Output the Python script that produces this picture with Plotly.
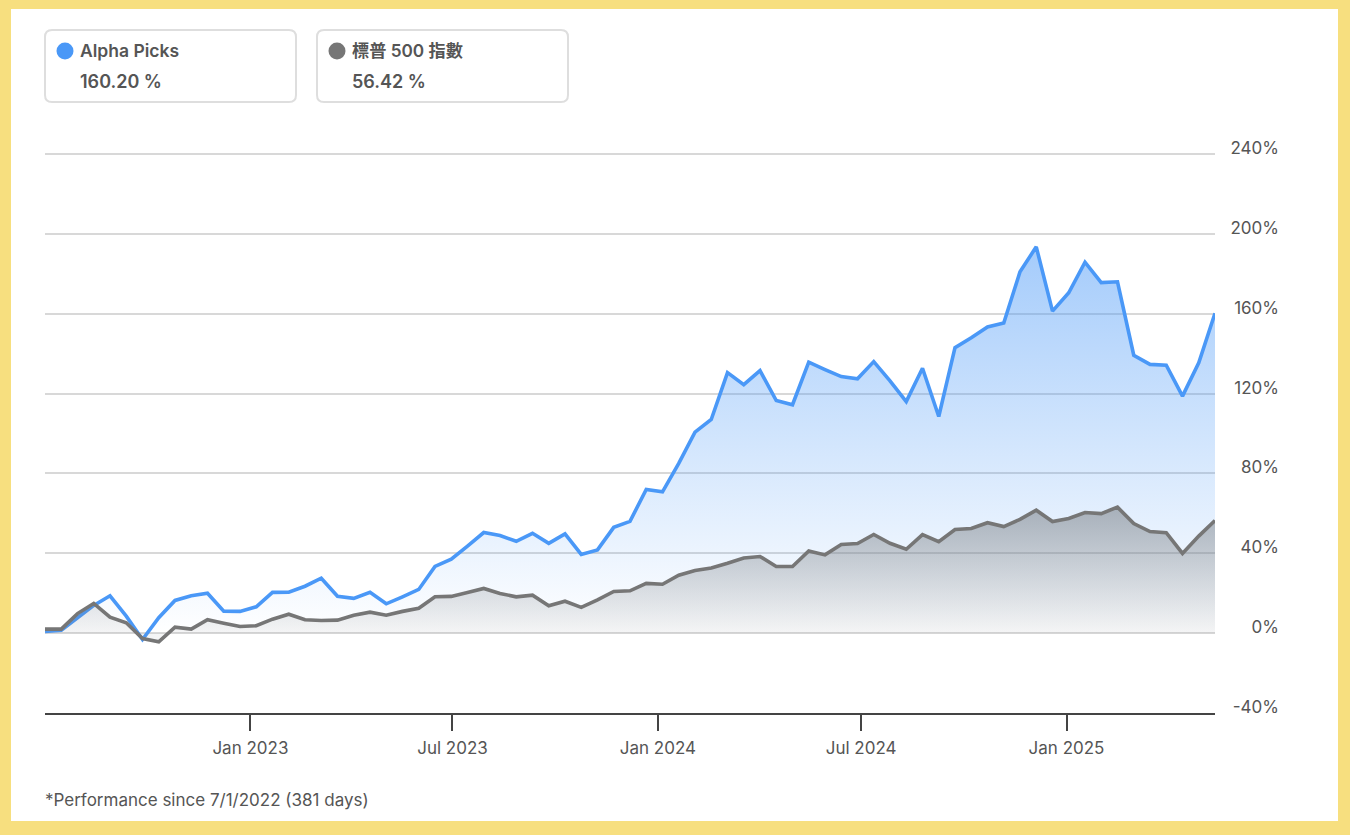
import pandas as pd
import plotly.graph_objects as go

W, H = 1350, 835
alpha_picks = [0.8, 1.5, 7.7, 13.9, 18.7, 8.5, -3.2, 7.7, 16.4, 18.7, 20, 11, 10.9, 13.2, 20.4, 20.5,
               23.5, 27.5, 18.5, 17.4, 20.5, 14.7, 18.2, 21.9, 33.4, 37, 43.6, 50.4, 48.9, 46, 50,
               45, 49.7, 39.4, 41.7, 53, 56, 72, 70.8, 85, 100.7, 107, 130.5, 124.5, 131.5, 116.5,
               114.4, 135.7, 132, 128.5, 127.4, 136, 126.4, 116, 132.7, 108.5, 143, 148, 153.4, 155.3,
               181, 193.5, 161.3, 170.5, 185.8, 175.6, 176, 139.2, 134.6, 134.2, 118.7, 135.4, 160.2]
sp500 = [2, 2, 9.8, 14.9, 8, 5.2, -2.7, -4.3, 3, 2, 6.7, 5, 3.3, 3.7, 7, 9.5, 6.7, 6.3, 6.5, 9, 10.5,
         9, 10.9, 12.5, 18.2, 18.4, 20.4, 22.4, 19.9, 18.2, 19, 13.7, 16, 12.9, 16.7, 20.9, 21.2, 24.9,
         24.5, 29, 31.4, 32.6, 35, 37.6, 38.4, 33.4, 33.4, 41.2, 39.2, 44.4, 44.9, 49.4, 45, 42,
         49.3, 45.8, 51.9, 52.4, 55.3, 53.4, 57, 61.6, 55.9, 57.4, 60.4, 59.9, 63.1, 54.9, 50.9, 50.3,
         39.9, 48.6, 56.42]
dates = pd.date_range("2022-07-01", "2025-05-14", periods=len(alpha_picks))
x_ticks = ["2023-01-01", "2023-07-01", "2024-01-01", "2024-07-01", "2025-01-01"]
x_labels = ["Jan 2023", "Jul 2023", "Jan 2024", "Jul 2024", "Jan 2025"]
y_ticks = [-40, 0, 40, 80, 120, 160, 200, 240]
y_labels = ["-40%", "0%", "40%", "80%", "120%", "160%", "200%", "240%"]

FONT = "Inter, 'Noto Sans CJK TC', sans-serif"
TXT = "#555555"
BLUE = "#4A98F7"
GRAY = "#767676"

def px(x): return x / W
def py(y): return 1 - y / H

def rrect(x0, y0, x1, y1, r=7):
    a, b, c, d = px(x0), px(x1), py(y0), py(y1)
    rx, ry = r / W, r / H
    return (f"M{a+rx},{c} L{b-rx},{c} Q{b},{c} {b},{c-ry} L{b},{d+ry} Q{b},{d} {b-rx},{d} "
            f"L{a+rx},{d} Q{a},{d} {a},{d+ry} L{a},{c-ry} Q{a},{c} {a+rx},{c} Z")

fig = go.Figure()
fig.add_trace(go.Scatter(
    x=dates, y=alpha_picks, mode="lines", fill="tozeroy", hoverinfo="skip",
    line=dict(color=BLUE, width=3.6, simplify=False),
    fillgradient=dict(type="vertical", start=0, stop=193,
                      colorscale=[[0, "rgba(74,152,247,0.0)"], [1, "rgba(74,152,247,0.50)"]]),
))
fig.add_trace(go.Scatter(
    x=dates, y=sp500, mode="lines", fill="tozeroy", hoverinfo="skip",
    line=dict(color=GRAY, width=3.6, simplify=False),
    fillgradient=dict(type="vertical", start=0, stop=62,
                      colorscale=[[0, "rgba(125,130,135,0.08)"], [1, "rgba(115,120,125,0.52)"]]),
))

shapes = [
    dict(type="rect", xref="paper", yref="paper", x0=px(11), x1=px(1338), y0=py(9), y1=py(821),
         fillcolor="white", line_width=0, layer="below"),
]
for x0 in (45, 317):
    shapes.append(dict(type="path", xref="paper", yref="paper", path=rrect(x0, 30, x0 + 251, 102),
                       fillcolor="white", line=dict(color="#DEDEDE", width=2), layer="below"))
for cx, col in ((65, BLUE), (337, GRAY)):
    shapes.append(dict(type="circle", xref="paper", yref="paper", x0=px(cx - 8.5), x1=px(cx + 8.5),
                       y0=py(51 - 8.5), y1=py(51 + 8.5), fillcolor=col, line_width=0, layer="below"))

def note(x, y, text, size=17, weight=600):
    return dict(xref="paper", yref="paper", x=px(x - 2), y=py(y), text=text, showarrow=False, xanchor="left",
                yanchor="middle", font=dict(family=FONT, size=size, color=TXT, weight=weight))

annotations = [
    note(80, 51, "Alpha Picks", size=17.5),
    note(80, 81, "160.20 %", size=18),
    note(352, 51, "標普 500 指數", size=17.2),
    note(352, 81, "56.42 %", size=18),
    note(45, 800, "*Performance since 7/1/2022 (381 days)", size=17, weight=400),
]

fig.update_layout(
    width=W, height=H, margin=dict(l=0, r=0, t=0, b=0, autoexpand=False),
    paper_bgcolor="#F7DF7F", plot_bgcolor="rgba(0,0,0,0)", showlegend=False,
    font=dict(family=FONT, color=TXT, size=17), shapes=shapes, annotations=annotations,
    xaxis=dict(domain=[px(45), px(1215)], range=[dates[0], dates[-1]], type="date", tickmode="array",
               tickvals=x_ticks, ticktext=x_labels, ticks="outside", ticklen=16, tickwidth=1.5,
               tickcolor="#444444", showline=True, linecolor="#444444", linewidth=1.5, ticklabelstandoff=3,
               showgrid=False, zeroline=False, tickfont=dict(size=17, color=TXT), automargin=False),
    yaxis=dict(domain=[py(713), py(152)], range=[-40, 241], tickmode="array", tickvals=y_ticks,
               ticktext=y_labels, side="left", anchor="free", position=px(1279), showgrid=True,
               gridcolor="#D8D8D8", gridwidth=1.5, zeroline=False, showline=False, ticks="",
               ticklabelshift=-6, tickfont=dict(size=17, color=TXT), automargin=False),
)

fig.write_html("out.html", config={"displayModeBar": False},
               post_script="document.body.style.margin='0';document.body.style.background='#F7DF7F';document.body.style.overflow='hidden';")
